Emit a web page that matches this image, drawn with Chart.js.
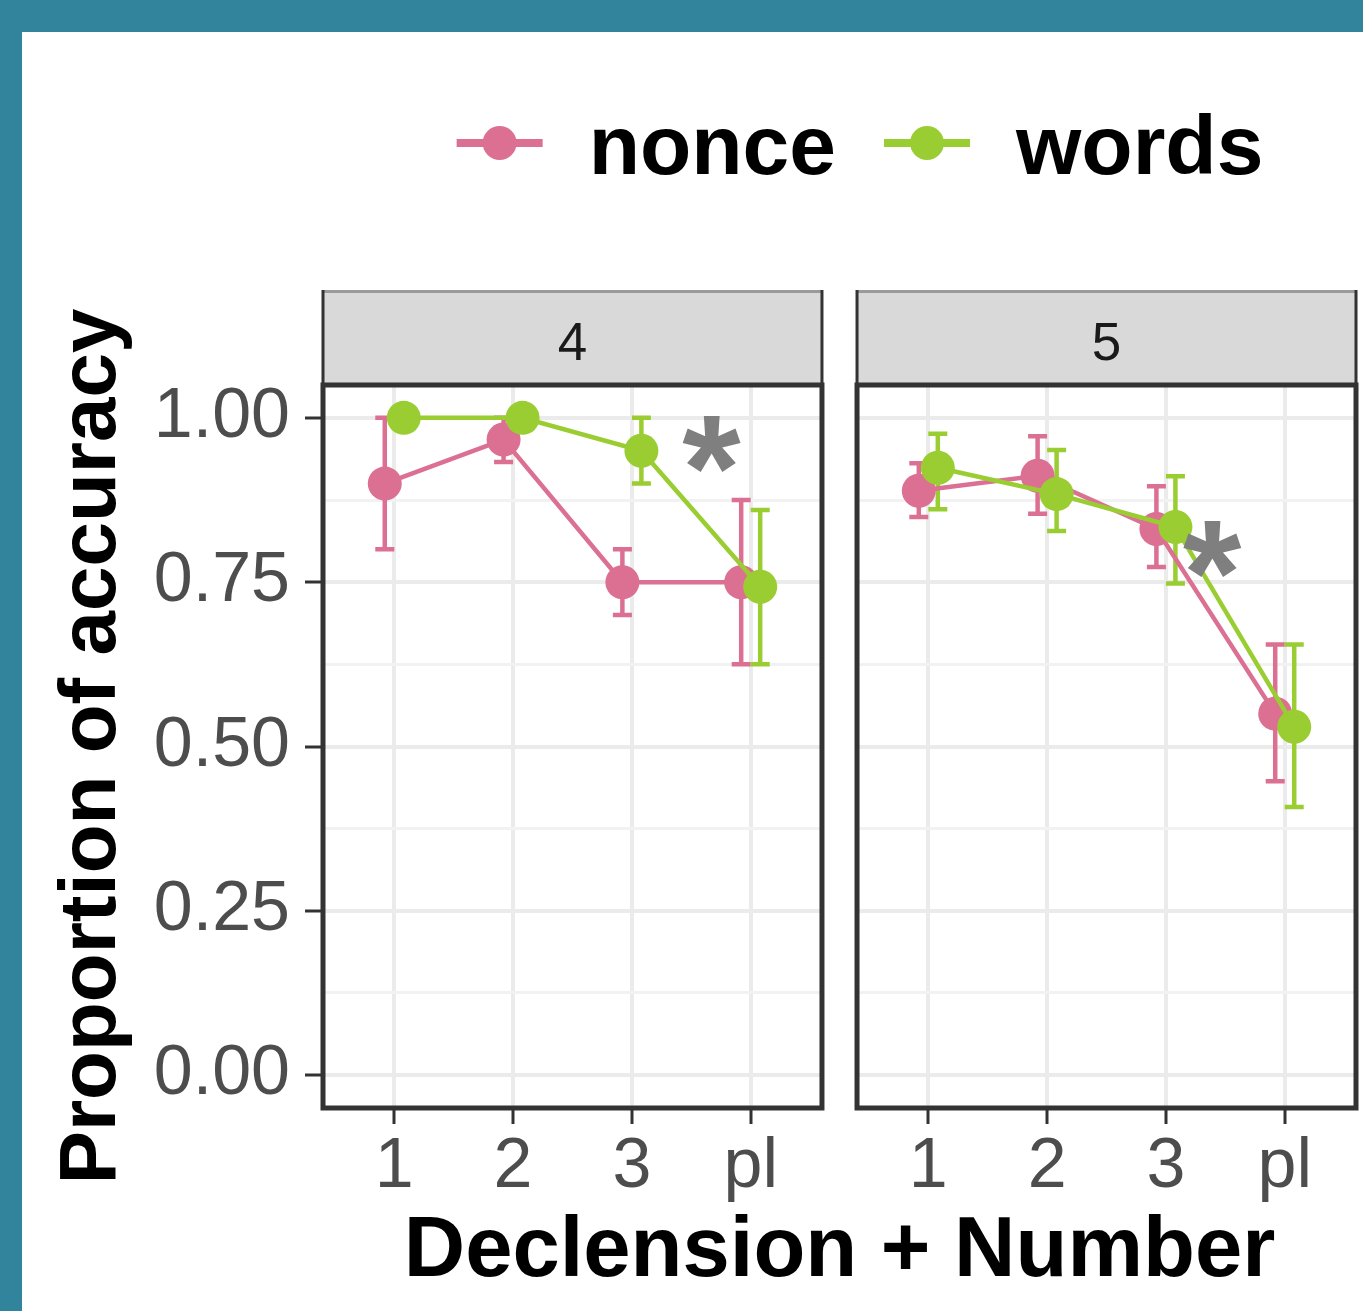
<!DOCTYPE html>
<html>
<head>
<meta charset="utf-8">
<script src="https://cdn.jsdelivr.net/npm/chart.js@4.4.1/dist/chart.umd.min.js"></script>
<style>
  html, body { margin: 0; padding: 0; background: #31849B; }
  #frame { position: absolute; left: 22px; top: 32px; width: 1341px; height: 1279px; background: #ffffff; }
  canvas { display: block; }
</style>
</head>
<body>
<div id="frame"><canvas id="chart" width="1341" height="1279"></canvas></div>
<script>
// ---- data -------------------------------------------------------------
const categories = ['1', '2', '3', 'pl'];
const facets = ['4', '5'];

// facet "4"
const nonce4     = [0.90, 0.967, 0.75, 0.75];
const nonce4Low  = [0.80, 0.933, 0.70, 0.625];
const nonce4High = [1.00, 1.00, 0.80, 0.875];
const words4     = [1.00, 1.00, 0.95, 0.743];
const words4Low  = [1.00, 1.00, 0.90, 0.625];
const words4High = [1.00, 1.00, 1.00, 0.86];

// facet "5"
const nonce5     = [0.889, 0.912, 0.831, 0.55];
const nonce5Low  = [0.849, 0.854, 0.773, 0.447];
const nonce5High = [0.931, 0.972, 0.896, 0.655];
const words5     = [0.924, 0.884, 0.834, 0.53];
const words5Low  = [0.861, 0.828, 0.748, 0.408];
const words5High = [0.976, 0.951, 0.911, 0.655];

const yMajorTicks = [0, 0.25, 0.5, 0.75, 1];
const yMinorTicks = [0.125, 0.375, 0.625, 0.875];

// significance stars: facet index, position on the category axis, height
const starFacet = [0, 1];
const starX = [3.67, 3.39];
const starY = [0.96, 0.80];
const starText = '*';

// ---- layout helpers ---------------------------------------------------
const NONCE_COLOR = '#DB7093';
const WORDS_COLOR = '#9ACD32';
const PANEL_MIN = 0.4, PANEL_MAX = 4.6;   // discrete axis with 0.6 expansion
const FACET_GAP = 0.295;                  // space between facets, in category units
const FACET_STEP = (PANEL_MAX - PANEL_MIN) + FACET_GAP;
const DODGE = 0.08;
const CAP_HALF = 0.08;

function xPos(facet, i, dodge) { return i + 1 + facet * FACET_STEP + dodge; }

function series(label, facet, values, low, high, color, dodge, order) {
  return {
    label: label,
    data: values.map((v, i) => ({ x: xPos(facet, i, dodge), y: v })),
    errLow: low,
    errHigh: high,
    borderColor: color,
    backgroundColor: color,
    borderWidth: 4.5,
    pointRadius: 17,
    pointHoverRadius: 17,
    pointBorderWidth: 0,
    pointBackgroundColor: color,
    tension: 0,
    order: order
  };
}

const datasets = [
  series('nonce', 0, nonce4, nonce4Low, nonce4High, NONCE_COLOR, -DODGE, 1),
  series('words', 0, words4, words4Low, words4High, WORDS_COLOR, DODGE, 0),
  series('nonce', 1, nonce5, nonce5Low, nonce5High, NONCE_COLOR, -DODGE, 1),
  series('words', 1, words5, words5Low, words5High, WORDS_COLOR, DODGE, 0)
];

const FONT = '"Liberation Sans", Arial, Helvetica, sans-serif';
Chart.defaults.font.family = FONT;

function isMajor(v) { return yMajorTicks.some(t => Math.abs(t - v) < 1e-9); }

// ---- facet decorations: gap mask, error bars, borders, strips, stars, legend, y title
const facetPlugin = {
  id: 'facetPlugin',
  panels(chart) {
    const xs = chart.scales.x, a = chart.chartArea;
    return facets.map((f, fi) => ({
      label: f,
      left: xs.getPixelForValue(PANEL_MIN + fi * FACET_STEP),
      right: xs.getPixelForValue(PANEL_MAX + fi * FACET_STEP),
      top: a.top, bottom: a.bottom
    }));
  },
  beforeDatasetsDraw(chart) {
    const ctx = chart.ctx, ys = chart.scales.y, xs = chart.scales.x;
    const p = this.panels(chart);
    // blank the space between the two facets
    ctx.save();
    ctx.fillStyle = '#ffffff';
    ctx.fillRect(p[0].right, chart.chartArea.top - 1, p[1].left - p[0].right, chart.chartArea.bottom - chart.chartArea.top + 2);
    // error bars
    chart.data.datasets.forEach((ds) => {
      ctx.strokeStyle = ds.borderColor;
      ctx.lineWidth = 4.5;
      ctx.lineCap = 'butt';
      ds.data.forEach((pt, i) => {
        const px = xs.getPixelForValue(pt.x);
        const cw = xs.getPixelForValue(pt.x + CAP_HALF) - px;
        const yl = ys.getPixelForValue(ds.errLow[i]);
        const yh = ys.getPixelForValue(ds.errHigh[i]);
        ctx.beginPath();
        ctx.moveTo(px, yl); ctx.lineTo(px, yh);
        ctx.moveTo(px - cw, yl); ctx.lineTo(px + cw, yl);
        ctx.moveTo(px - cw, yh); ctx.lineTo(px + cw, yh);
        ctx.stroke();
      });
    });
    ctx.restore();
  },
  afterDatasetsDraw(chart) {
    const ctx = chart.ctx, xs = chart.scales.x, ys = chart.scales.y;
    const p = this.panels(chart);
    ctx.save();
    // strips
    const stripH = 95;
    p.forEach(pn => {
      ctx.fillStyle = '#D9D9D9';
      ctx.fillRect(pn.left, pn.top - stripH, pn.right - pn.left, stripH);
      ctx.strokeStyle = '#9a9a9a';
      ctx.lineWidth = 3;
      ctx.beginPath();
      ctx.moveTo(pn.left, pn.top - stripH + 1.5); ctx.lineTo(pn.right, pn.top - stripH + 1.5);
      ctx.stroke();
      ctx.strokeStyle = '#333333';
      ctx.lineWidth = 3;
      ctx.beginPath();
      ctx.moveTo(pn.left, pn.top - stripH); ctx.lineTo(pn.left, pn.top);
      ctx.moveTo(pn.right, pn.top - stripH); ctx.lineTo(pn.right, pn.top);
      ctx.stroke();
      ctx.fillStyle = '#1A1A1A';
      ctx.font = '53px ' + FONT;
      ctx.textAlign = 'center';
      ctx.textBaseline = 'alphabetic';
      ctx.fillText(pn.label, (pn.left + pn.right) / 2, pn.top - stripH + 70);
    });
    // panel borders
    ctx.strokeStyle = '#333333';
    ctx.lineWidth = 5;
    p.forEach(pn => ctx.strokeRect(pn.left, pn.top, pn.right - pn.left, pn.bottom - pn.top));
    // significance stars
    ctx.fillStyle = '#7F7F7F';
    ctx.font = 'bold 150px ' + FONT;
    const m = ctx.measureText(starText);
    ctx.textAlign = 'center';
    ctx.textBaseline = 'alphabetic';
    starX.forEach((sx, k) => {
      const px = xs.getPixelForValue(sx + starFacet[k] * FACET_STEP);
      const py = ys.getPixelForValue(starY[k]);
      const Y = py + (m.actualBoundingBoxAscent - m.actualBoundingBoxDescent) / 2;
      ctx.fillText(starText, px, Y);
    });
    ctx.restore();
  },
  afterDraw(chart) {
    const ctx = chart.ctx, a = chart.chartArea;
    ctx.save();
    // y axis title
    ctx.translate(93, (a.top + a.bottom) / 2);
    ctx.rotate(-Math.PI / 2);
    ctx.fillStyle = '#000000';
    ctx.font = 'bold 80px ' + FONT;
    ctx.textAlign = 'center';
    ctx.textBaseline = 'alphabetic';
    ctx.fillText('Proportion of accuracy', 0, 0);
    ctx.restore();

    // legend
    ctx.save();
    const seen = [];
    chart.data.datasets.forEach(ds => {
      if (!seen.some(s => s.label === ds.label)) seen.push({ label: ds.label, color: ds.borderColor });
    });
    ctx.font = 'bold 84px ' + FONT;
    const markerW = 86, gapText = 46, gapItem = 48;
    const widths = seen.map(s => ctx.measureText(s.label).width);
    const total = widths.reduce((t, w) => t + markerW + gapText + w, 0) + gapItem * (seen.length - 1);
    let x = 838 - total / 2;
    const cy = 111, base = 142;
    seen.forEach((s, k) => {
      ctx.strokeStyle = s.color;
      ctx.lineWidth = 8;
      ctx.beginPath();
      ctx.moveTo(x, cy); ctx.lineTo(x + markerW, cy);
      ctx.stroke();
      ctx.fillStyle = s.color;
      ctx.beginPath();
      ctx.arc(x + markerW / 2, cy, 17, 0, Math.PI * 2);
      ctx.fill();
      ctx.fillStyle = '#000000';
      ctx.textAlign = 'left';
      ctx.textBaseline = 'alphabetic';
      ctx.fillText(s.label, x + markerW + gapText, base);
      x += markerW + gapText + widths[k] + gapItem;
    });
    ctx.restore();
  }
};

new Chart(document.getElementById('chart'), {
  type: 'line',
  data: { datasets: datasets },
  plugins: [facetPlugin],
  options: {
    responsive: false,
    animation: false,
    events: [],
    layout: { autoPadding: false, padding: { left: 0, right: 7, top: 353, bottom: 0 } },
    plugins: { legend: { display: false }, tooltip: { enabled: false } },
    scales: {
      x: {
        type: 'linear',
        min: PANEL_MIN,
        max: PANEL_MAX + FACET_STEP,
        afterBuildTicks(scale) {
          scale.ticks = facets.flatMap((f, fi) => categories.map((c, i) => ({ value: xPos(fi, i, 0) })));
        },
        afterFit(scale) {
          scale.height = 203;
          scale.paddingLeft = 0; scale.paddingRight = 0;
          scale.paddingTop = 0; scale.paddingBottom = 0;
        },
        border: { display: false },
        grid: { color: '#EBEBEB', lineWidth: 4, tickColor: '#333333', tickWidth: 3, tickLength: 16 },
        ticks: {
          autoSkip: false, maxRotation: 0, minRotation: 0, padding: 2,
          color: '#4D4D4D', font: { size: 70 },
          callback: (v, idx) => categories[idx % categories.length]
        },
        title: {
          display: true, text: 'Declension + Number', color: '#000000',
          font: { size: 85, weight: 'bold' }, padding: { top: 0, bottom: 7 }
        }
      },
      y: {
        type: 'linear',
        min: -0.05,
        max: 1.05,
        afterBuildTicks(scale) {
          scale.ticks = yMajorTicks.concat(yMinorTicks).sort((p, q) => p - q).map(v => ({ value: v }));
        },
        afterFit(scale) {
          scale.width = 301;
          scale.paddingTop = 0; scale.paddingBottom = 0;
          scale.paddingLeft = 0; scale.paddingRight = 0;
        },
        border: { display: false },
        grid: {
          color: c => isMajor(c.tick.value) ? '#EBEBEB' : '#F2F2F2',
          lineWidth: c => isMajor(c.tick.value) ? 4 : 3,
          tickColor: c => isMajor(c.tick.value) ? '#333333' : 'rgba(0,0,0,0)',
          tickWidth: 3, tickLength: 18
        },
        ticks: {
          autoSkip: false, padding: 15, color: '#4D4D4D', font: { size: 70 },
          callback: v => isMajor(v) ? v.toFixed(2) : ''
        }
      }
    }
  }
});
</script>
</body>
</html>
